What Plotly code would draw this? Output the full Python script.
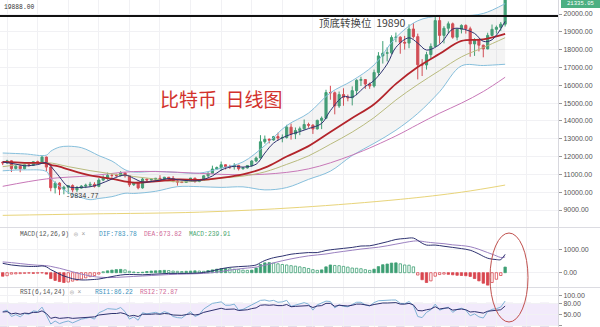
import plotly.graph_objects as go
import pandas as pd

# ---------------- data ----------------
opens = [11680,11650,11760,11330,11460,11320,11540,11500,11710,11680,
         11970,11410,10250,10510,10170,10280,10370,10130,10230,10340,
         10390,10440,10330,10680,10790,10950,10940,10930,11080,10920,
         10420,10530,10240,10740,10690,10730,10775,10710,10840,10780,
         10620,10570,10550,10670,10790,10600,10670,10920,11060,11300,
         11380,11540,11430,11430,11500,11320,11360,11500,11750,11920,
         12830,12970,12930,13120,13040,13070,13650,13270,13460,13560,
         13800,13760,13550,14030,14150,15590,15580,14840,15480,15330,
         15300,15700,16280,16320,16070,15960,16720,17650,17800,17820,
         18680,18700,18410,18370,19160,18730,17150,17140,17720,18180,
         19630,18800,19200,19450,18700,19150,19360,19170,18320,18550,
         18250,18040,18800,19140,19250,19430]
highs = [11710,11820,11790,11530,11590,11560,11590,11720,11770,12080,
         12000,11500,10610,10560,10360,10400,10440,10350,10400,10480,
         10580,10560,10790,10950,11100,11050,11040,11180,11110,10930,
         10580,10570,10800,10760,10790,10800,10950,10860,10850,10910,
         10650,10600,10690,10800,10800,10690,10950,11120,11490,11440,
         11720,11560,11540,11630,11540,11400,11480,11800,12000,13200,
         13180,13020,13160,13340,13240,13780,13850,13630,13680,14080,
         13900,13820,14070,14250,15750,15970,15650,15650,15830,15480,
         15940,16340,16480,16330,16150,16880,17860,18480,18130,18800,
         18960,18750,18770,19420,19490,18900,17470,17880,18350,19860,
         19890,19320,19580,19520,19170,19420,19420,19290,18640,18580,
         18280,18950,19410,19350,19550,21560]
lows = [11520,11590,11130,11270,11120,11280,11430,11480,11560,11650,
        11180,10050,9930,9835,9880,9900,9990,10000,10200,10230,
        10290,10260,10280,10620,10700,10780,10860,10890,10820,10300,
        10350,10160,10200,10600,10650,10650,10640,10680,10670,10560,
        10370,10510,10530,10640,10530,10560,10640,10830,11020,11280,
        11200,11280,11310,11270,11220,11260,11330,11420,11680,11900,
        12720,12740,12890,12900,12800,13010,12950,12980,13200,13500,
        13620,13270,13520,13540,14100,15190,14370,14730,14850,15100,
        14870,15440,15960,15800,15800,15870,16560,17220,17340,17740,
        18420,17770,18000,18080,18620,16330,16520,16880,17520,18180,
        18330,18350,18920,18610,18520,18910,18900,17600,17650,17900,
        17570,18020,18750,18900,19050,19300]
closes = [11650,11760,11330,11460,11320,11540,11500,11710,11680,11970,
          11410,10250,10510,10170,10280,10370,10130,10230,10340,10390,
          10440,10330,10680,10790,10950,10940,10930,11080,10920,10420,
          10530,10240,10740,10690,10730,10775,10710,10840,10780,10620,
          10570,10550,10670,10790,10600,10670,10920,11060,11300,11380,
          11540,11430,11430,11500,11320,11360,11500,11750,11920,12830,
          12970,12930,13120,13040,13070,13650,13270,13460,13560,13800,
          13760,13550,14030,14150,15590,15580,14840,15480,15330,15300,
          15700,16280,16320,16070,15960,16720,17650,17800,17820,18680,
          18700,18410,18370,19160,18730,17150,17140,17720,18180,19630,
          18800,19200,19450,18700,19150,19360,19170,18320,18550,18250,
          18040,18800,19140,19250,19430,21310]

# moving-average style lines, read at sparse day positions
ma5_days = [0,3,5,8,10,12,13,15,18,20,22,25,28,30,32,35,38,40,43,45,48,50,53,55,
            58,60,62,65,68,70,73,75,78,80,83,85,88,90,93,95,97,100,103,105,108,
            110,112,115]
ma5_vals = [11694,11576,11482,11550,11654,11164,10862,10316,10270,10306,10436,
            10738,10964,10776,10570,10635,10767,10704,10640,10656,10910,11240,
            11456,11408,11570,12194,12754,13162,13402,13570,13858,14580,15364,
            15330,15934,16270,17190,18130,18664,18364,17980,18294,19156,19172,
            18910,18466,18556,19586]
ma20_days = [0,5,10,11,13,15,20,25,30,35,40,45,50,55,60,65,70,75,80,85,90,95,100,
             105,110,115]
ma20_vals = [11700,11650,11620,11540,11430,11280,10940,10750,10534,10614,10713,
             10693,10809,11002,11375,12001,12584,13377,14160,14938,16078,17024,
             17765,18490,18574,18880]
bb_days = [0,5,10,11,13,15,18,20,22,25,28,30,35,40,45,50,55,60,65,70,75,80,85,90,
           95,100,105,110,115]
bb_upper = [12200,12150,12080,12300,12530,12580,12500,12300,12050,11750,11260,
            11130,11170,11110,11070,11350,11700,12620,13740,14440,15580,16260,
            17140,18680,19620,19890,19890,20030,20580]
bb_lower = [11200,11250,11160,10780,10330,9980,9700,9580,9650,9750,9940,9930,
            10050,10310,10310,10270,10300,10130,10260,10720,11180,12060,12740,
            13480,14420,15640,17090,17110,17180]
ma30_days = [0,10,15,20,25,30,35,40,45,50,55,60,65,70,75,80,85,90,95,100,105,110,115]
ma30_vals = [11433,11660,11436,11210,11027,10879,10737,10579,10636,10791,10904,
             11140,11561,12038,12692,13374,14184,15174,16041,16828,17593,18116,
             18669]
ma60_days = [0,10,20,30,40,50,60,70,80,90,95,100,105,110,115]
ma60_vals = [10330,10745,10922,11158,11120,11001,11009,11309,12083,13157,13801,
             14433,15000,15650,16450]
long_days = [0,20,45,68,91,105,115]
long_vals = [8700,8780,8880,9150,9600,10000,10400]

# MACD (12,26,9)
macd_hist = [-150,-130,-60,-50,-40,-30,-20,-30,-20,-10,
             -60,-250,-330,-380,-420,-400,-360,-320,-270,-220,
             -170,-120,-60,40,80,110,130,140,120,60,
             30,10,20,50,70,80,90,100,90,70,
             60,50,60,70,80,70,60,90,120,150,
             170,180,170,150,130,110,100,110,200,350,
             420,430,410,380,350,330,300,280,250,220,
             180,130,100,120,250,330,310,300,270,240,
             200,190,170,130,100,150,260,340,370,410,
             420,380,330,320,250,-100,-300,-420,-350,-150,
             -80,-60,-70,-90,-110,-120,-130,-160,-250,-350,
             -450,-530,-420,-280,-120,240]
dif_days = [0,2,4,6,8,9,10,11,12,13,14,15,16,17,18,19,20,22,24,26,28,30,32,34,36,
            38,40,42,44,46,48,50,52,54,56,58,59,60,62,64,66,68,70,72,74,76,78,80,
            82,84,86,88,90,92,94,95,96,97,99,101,103,105,107,109,110,111,112,113,
            114,115]
dif_vals = [400,330,290,270,270,290,250,130,40,-60,-140,-200,-260,-290,-310,-310,
            -300,-270,-200,-130,-80,-80,-90,-70,-50,-30,-30,-30,-20,10,80,170,230,
            260,280,330,430,520,640,710,790,830,860,860,950,1000,1040,1080,1140,
            1150,1230,1320,1420,1460,1480,1380,1260,1180,1180,1130,1080,1030,960,
            800,700,620,580,560,560,784]
dea_days = [0,2,4,6,8,10,11,12,13,14,15,16,17,18,19,20,22,24,26,28,30,32,34,36,38,
            40,42,44,46,48,50,52,54,56,58,60,62,64,66,68,70,72,74,76,78,80,82,84,
            86,88,90,92,94,95,96,97,99,101,103,105,107,109,111,113,114,115]
dea_vals = [460,430,390,350,320,300,270,230,190,140,90,40,-10,-60,-100,-140,-190,
            -210,-200,-180,-160,-140,-120,-100,-80,-65,-55,-45,-30,0,50,110,160,
            200,240,320,420,510,590,660,720,760,800,860,910,960,1010,1050,1090,
            1150,1220,1290,1350,1360,1340,1310,1270,1240,1190,1160,1110,1000,860,
            720,650,674]

# RSI (6,14,24)
rsi1 = [58,62,45,50,44,53,51,60,58,70,
        48,25,33,26,30,33,28,33,38,40,
        43,38,55,60,66,65,64,69,58,38,
        44,35,55,52,54,56,52,58,54,45,
        42,41,50,58,45,50,65,72,80,82,
        84,75,75,78,62,64,70,76,80,88,
        89,86,88,83,84,88,72,76,78,82,
        78,62,76,80,86,85,68,76,72,71,
        77,83,83,76,73,82,87,88,88,89,
        89,80,79,85,74,45,42,56,63,78,
        62,67,70,56,64,67,62,47,52,44,
        41,58,64,66,70,86.22]
rsi2 = [57,58,52,54,51,54,53,56,56,60,
        53,40,43,40,41,42,40,41,43,44,
        45,44,49,51,53,53,53,55,52,46,
        48,45,51,50,51,52,51,53,52,49,
        48,48,50,52,49,51,56,59,63,64,
        67,64,64,65,61,61,63,66,68,75,
        76,75,76,74,74,77,71,72,73,75,
        74,69,73,74,80,80,72,75,73,73,
        75,78,78,75,74,77,80,81,81,82,
        82,78,78,80,76,61,60,63,65,71,
        65,67,68,62,64,65,63,57,58,55,
        54,59,61,62,63,72.87]

H_LINE = 19888

# ---------------- figure ----------------
W, H = 600, 327
PW = 558.0
dates = pd.date_range("2020-08-23", periods=len(closes), freq="D")
day = pd.Timedelta(days=1)
x0 = dates[0] - 0.62 * day
x1 = dates[0] + 127.1 * day

def px_x(p):
    return p / PW

def px_y(p):
    return 1 - p / H

def dx(days):
    return [dates[d] for d in days]

UP = "#3d9f74"
DOWN = "#d9464f"

fig = go.Figure()

# Bollinger band fill
fig.add_trace(go.Scatter(x=dx(bb_days), y=bb_lower, mode="lines",
                         line=dict(color="#86bfdc", width=1), hoverinfo="skip",
                         xaxis="x", yaxis="y", line_shape="spline"))
fig.add_trace(go.Scatter(x=dx(bb_days), y=bb_upper, mode="lines",
                         line=dict(color="#86bfdc", width=1), fill="tonexty",
                         fillcolor="rgba(150,150,150,0.10)", hoverinfo="skip",
                         xaxis="x", yaxis="y", line_shape="spline"))
fig.add_trace(go.Scatter(x=dx(long_days), y=long_vals, mode="lines",
                         line=dict(color="#e8d47a", width=1), line_shape="spline",
                         xaxis="x", yaxis="y"))
fig.add_trace(go.Scatter(x=dx(ma60_days), y=ma60_vals, mode="lines",
                         line=dict(color="#c878b8", width=1), line_shape="spline",
                         xaxis="x", yaxis="y"))
fig.add_trace(go.Scatter(x=dx(ma30_days), y=ma30_vals, mode="lines",
                         line=dict(color="#b9bb7e", width=1), line_shape="spline",
                         xaxis="x", yaxis="y"))
fig.add_trace(go.Scatter(x=dx(ma20_days), y=ma20_vals, mode="lines",
                         line=dict(color="#b3242b", width=1.8), line_shape="spline",
                         xaxis="x", yaxis="y"))
fig.add_trace(go.Scatter(x=dx(ma5_days), y=ma5_vals, mode="lines",
                         line=dict(color="#2e3270", width=1), line_shape="spline",
                         xaxis="x", yaxis="y"))

fig.add_trace(go.Candlestick(x=dates, open=opens, high=highs, low=lows, close=closes,
                             increasing=dict(line=dict(color=UP, width=1), fillcolor=UP),
                             decreasing=dict(line=dict(color=DOWN, width=1), fillcolor=DOWN),
                             whiskerwidth=0, xaxis="x", yaxis="y"))

# MACD histogram: filled when growing in magnitude, hollow when shrinking
fills, lines_c = [], []
for i, v in enumerate(macd_hist):
    prev = macd_hist[i - 1] if i > 0 else v
    col = UP if v >= 0 else DOWN
    growing = abs(v) >= abs(prev)
    fills.append(col if growing else "white")
    lines_c.append(col)
fig.add_trace(go.Bar(x=dates, y=macd_hist, width=0.55 * 86400000,
                     marker=dict(color=fills, line=dict(color=lines_c, width=0.8)),
                     xaxis="x2", yaxis="y2"))
fig.add_trace(go.Scatter(x=dx(dea_days), y=dea_vals, mode="lines",
                         line=dict(color="#9a80c0", width=1), line_shape="spline",
                         xaxis="x2", yaxis="y2"))
fig.add_trace(go.Scatter(x=dx(dif_days), y=dif_vals, mode="lines",
                         line=dict(color="#2e3270", width=1), line_shape="spline",
                         xaxis="x2", yaxis="y2"))

# RSI
fig.add_trace(go.Scatter(x=dates, y=rsi1, mode="lines",
                         line=dict(color="#7fb2d6", width=1),
                         xaxis="x3", yaxis="y3"))
fig.add_trace(go.Scatter(x=dates, y=rsi2, mode="lines",
                         line=dict(color="#2e3270", width=1),
                         xaxis="x3", yaxis="y3"))

axis_font = dict(family="Liberation Sans, Arial", size=7, color="#555")
xcommon = dict(range=[x0, x1], type="date", showticklabels=False,
               showgrid=True, gridcolor="#f1f1f4", zeroline=False,
               rangeslider=dict(visible=False), fixedrange=True,
               dtick=7 * 86400000, tick0="2020-08-24")
ycommon = dict(side="right", showgrid=True, gridcolor="#f1f1f4", zeroline=False,
               tickformat=".2f", tickfont=axis_font, ticks="outside", ticklen=3,
               tickcolor="#999", showline=True, linecolor="#d8d8de", linewidth=1)

fig.update_layout(
    width=W, height=H, margin=dict(l=0, r=600 - PW, t=0, b=0),
    paper_bgcolor="white", plot_bgcolor="white", showlegend=False,
    xaxis=dict(domain=[0, 1], anchor="y", **xcommon),
    xaxis2=dict(domain=[0, 1], anchor="y2", matches="x", **xcommon),
    xaxis3=dict(domain=[0, 1], anchor="y3", matches="x", **xcommon),
    yaxis=dict(domain=[px_y(227), 1], range=[8047, 20786],
               tickvals=list(range(9000, 20001, 1000)), anchor="x", **ycommon),
    yaxis2=dict(domain=[px_y(287), px_y(228)], range=[-611, 1910],
                tickvals=[0, 1000], anchor="x2", **ycommon),
    yaxis3=dict(domain=[0, px_y(288)], range=[17, 121],
                tickvals=[20, 50, 80, 100], anchor="x3", **ycommon),
)

shapes = []
# RSI band
shapes.append(dict(type="rect", xref="paper", yref="y3", x0=0, x1=1, y0=20, y1=80,
                   fillcolor="rgba(190,150,235,0.20)", line=dict(width=0), layer="below"))
for lv in (80, 20):
    shapes.append(dict(type="line", xref="paper", yref="y3", x0=0, x1=1, y0=lv, y1=lv,
                       line=dict(color="#b9a6cf", width=1, dash="dash"), layer="below"))
# pane separators
for py in (227.5, 287.5):
    shapes.append(dict(type="line", xref="paper", yref="paper", x0=0, x1=600 / PW,
                       y0=px_y(py), y1=px_y(py), line=dict(color="#dcdce2", width=1)))
# horizontal level line
shapes.append(dict(type="line", xref="paper", yref="y", x0=0, x1=1, y0=H_LINE, y1=H_LINE,
                   line=dict(color="#111", width=2)))
# current price tag
shapes.append(dict(type="rect", xref="paper", yref="paper", x0=px_x(561), x1=px_x(600),
                   y0=px_y(8), y1=px_y(-2), fillcolor="#4caf82", line=dict(width=0)))
# ellipse
shapes.append(dict(type="circle", xref="paper", yref="paper", x0=px_x(490), x1=px_x(528),
                   y0=px_y(322), y1=px_y(233), line=dict(color="#c0504d", width=1)))
fig.update_layout(shapes=shapes)

mono = "Liberation Mono, DejaVu Sans Mono, monospace"
cjk = "Noto Sans CJK SC, sans-serif"
ann = []
def text(x, y, s, size, color, family, anchor="left"):
    ann.append(dict(x=px_x(x), y=px_y(y), xref="paper", yref="paper", text=s,
                    showarrow=False, xanchor=anchor, yanchor="middle",
                    font=dict(size=size, color=color, family=family)))

text(2, 7, "19888.00", 6.3, "#333", mono)
text(362, 23, "顶底转换位  19890", 10.5, "#444", cjk, "center")
text(221, 98, "比特币  日线图", 19, "#d2322d", cjk, "center")
text(64, 196, "-9834.77", 6.8, "#333", mono)
text(18, 235, "MACD(12,26,9)", 6.3, "#555", mono)
text(72, 235, "◎ ×", 6.3, "#999", mono)
text(97, 235, "DIF:783.78", 6.3, "#3e93bd", mono)
text(142, 235, "DEA:673.82", 6.3, "#d06b98", mono)
text(187, 235, "MACD:239.91", 6.3, "#4ea873", mono)
text(18, 292, "RSI(6,14,24)", 6.3, "#555", mono)
text(68, 292, "◎ ×", 6.3, "#999", mono)
text(93, 292, "RSI1:86.22", 6.3, "#3e93bd", mono)
text(138, 292, "RSI2:72.87", 6.3, "#d06b98", mono)
text(580, 4, "21335.05", 5.6, "white", mono, "center")
fig.update_layout(annotations=ann)

fig.write_html("out.html")
